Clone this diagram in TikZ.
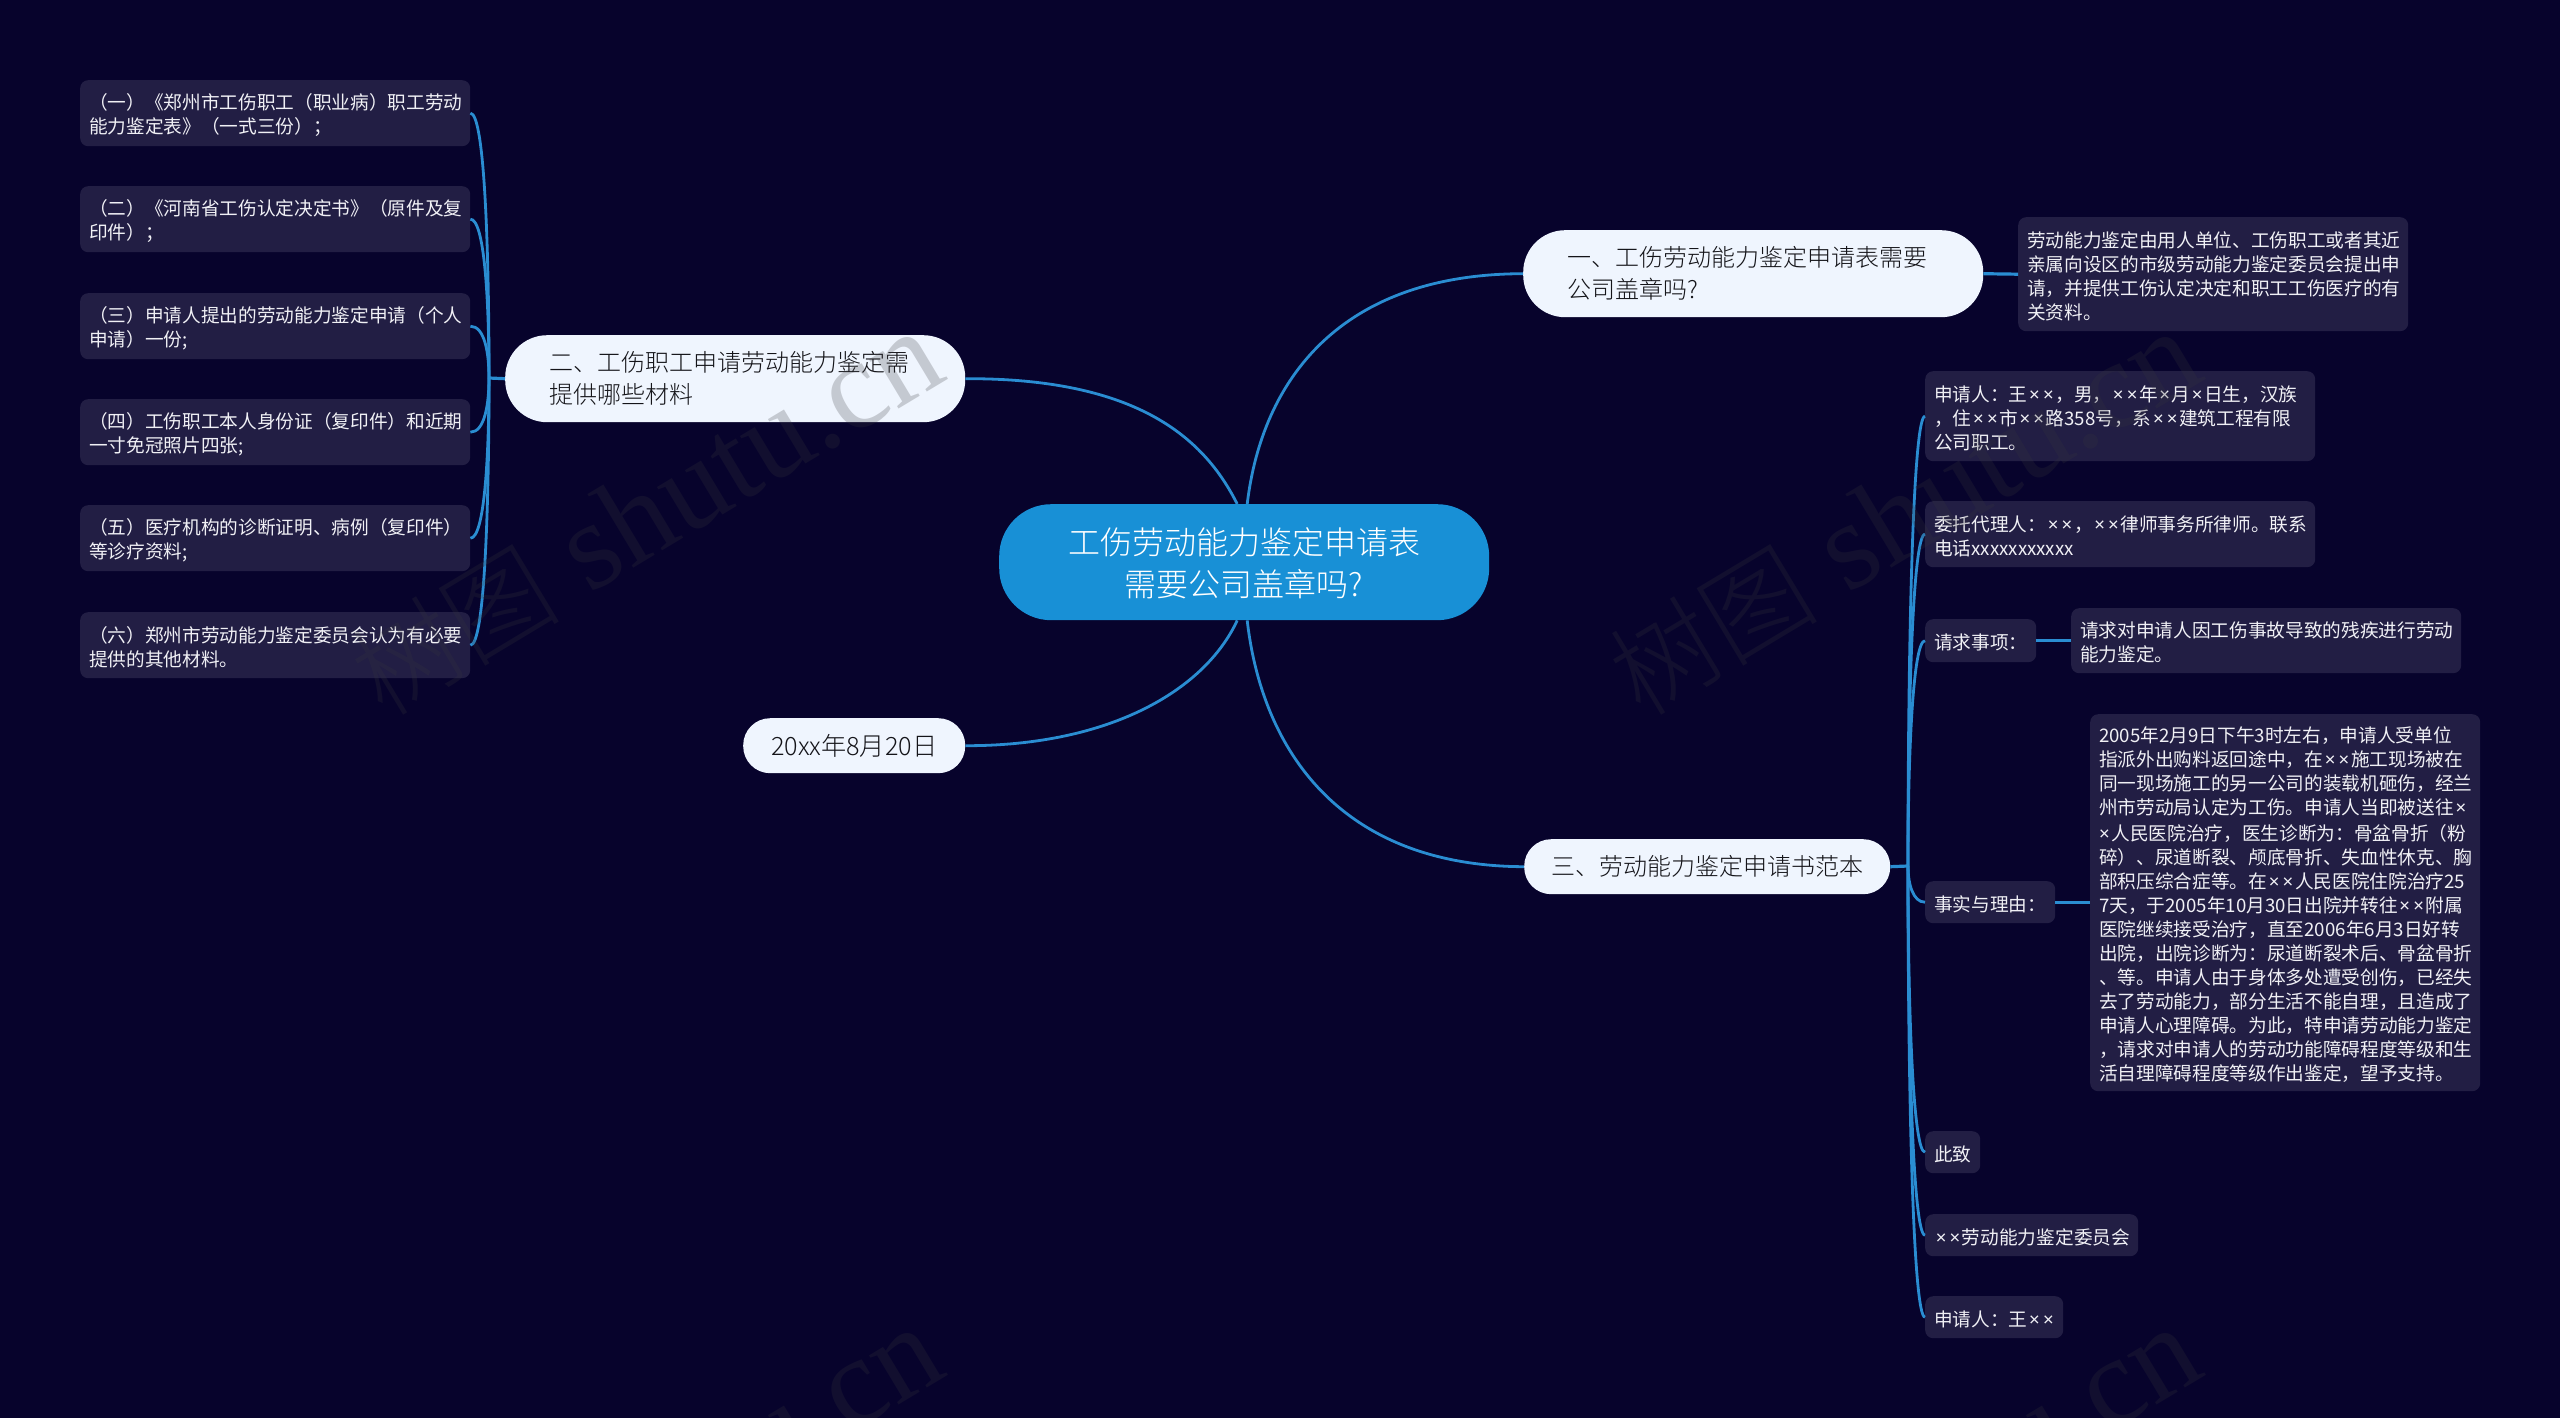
\documentclass[tikz,border=0pt]{standalone}
\usepackage{fontspec}
\setmainfont{Noto Sans CJK SC}
\newfontfamily\lightcjk{Noto Sans CJK SC}[UprightFont=* Light]
\newfontfamily\wmfont{Liberation Serif}
\newfontfamily\latfont{Noto Sans}
\newcommand{\X}{{\latfont\kern1.6pt ×\kern1.6pt}}
\newcommand{\leadD}{\rule{0pt}{19.6pt}}
\newcommand{\leadT}{\rule{0pt}{19pt}}
\newcommand{\leadR}{\rule{0pt}{30pt}}
\newcommand{\wmtext}{{\lightcjk\fontsize{105}{105}\selectfont 树图}{\wmfont\fontsize{125}{125}\selectfont{} shutu.cn}}
\usetikzlibrary{calc}
\definecolor{pagebg}{RGB}{7,3,44}
\definecolor{boxfill}{RGB}{34,30,68}
\definecolor{linecol}{RGB}{42,141,210}
\definecolor{rootfill}{RGB}{24,144,214}
\definecolor{topicfill}{RGB}{239,245,254}
\definecolor{topictext}{RGB}{20,20,25}
\definecolor{detailtext}{RGB}{240,240,245}
\definecolor{wmcol}{RGB}{55,55,60}
\tikzset{
  detail/.style 2 args={anchor=north west, fill=boxfill, text=detailtext, rounded corners=8pt,
    inner xsep=9pt, inner ysep=0pt, text width=#1pt, minimum height=#2pt, align=left,
    font=\fontsize{18.67}{24}\selectfont},
  topic/.style n args={3}{anchor=north west, fill=topicfill, text=topictext, rounded corners=#3pt,
    inner ysep=0pt, minimum height=#2pt, text width=#1pt,
    font=\lightcjk\fontsize{24}{32}\selectfont},
  rootnode/.style={anchor=north west, fill=rootfill, text=white, rounded corners=52pt,
    inner xsep=0pt, inner ysep=0pt, text width=490pt, minimum height=116pt, align=center,
    font=\lightcjk\fontsize{32}{42}\selectfont},
  mainlink/.style={draw=linecol, line width=2.8pt},
  branch/.style={draw=linecol, line width=2.8pt},
  stub/.style={draw=linecol, line width=3.2pt},
  watermark/.style={text=wmcol, text opacity=0.23, rotate=31},
}
\newcommand{\lbranch}[1]{\draw[branch] (tl) .. controls ($(tl)!0.5!(tl|-#1.east)$) and ($(#1.east)+(14,0)$) .. (#1.east);}
\newcommand{\rbranch}[1]{\draw[branch] (tr) .. controls ($(tr)!0.5!(tr|-#1.west)$) and ($(#1.west)+(-12,0)$) .. (#1.west);}
\begin{document}
\begin{tikzpicture}[x=1pt,y=-1pt]
\useasboundingbox (0,0) rectangle (2560,1418);
\fill[pagebg] (0,0) rectangle (2560,1418);

% detail nodes, left
\node[detail={372}{66}] (a1) at (80,80) {\leadD（一）《郑州市工伤职工（职业病）职工劳动\\能力鉴定表》（一式三份）；};
\node[detail={372}{66}] (a2) at (80,186) {\leadD（二）《河南省工伤认定决定书》（原件及复\\印件）；};
\node[detail={372}{66}] (a3) at (80,293) {\leadD（三）申请人提出的劳动能力鉴定申请（个人\\申请）一份;};
\node[detail={372}{66}] (a4) at (80,399) {\leadD（四）工伤职工本人身份证（复印件）和近期\\一寸免冠照片四张;};
\node[detail={372}{66}] (a5) at (80,505) {\leadD（五）医疗机构的诊断证明、病例（复印件）\\等诊疗资料;};
\node[detail={372}{66}] (a6) at (80,612) {\leadD（六）郑州市劳动能力鉴定委员会认为有必要\\提供的其他材料。};

% topics
\node[topic={372}{87}{42}, inner xsep=44pt] (t2) at (505,335) {\leadT 二、工伤职工申请劳动能力鉴定需\\提供哪些材料};
\node[topic={372}{87}{42}, inner xsep=44pt] (t1) at (1523,230) {\leadT 一、工伤劳动能力鉴定申请表需要\\公司盖章吗?};
\node[topic={312}{55}{27}, inner xsep=27pt] (t3) at (1524,839) {\leadT 三、劳动能力鉴定申请书范本};
\node[topic={168}{55}{27}, inner xsep=27pt, align=center, font=\lightcjk\fontsize{25.2}{32}\selectfont] (t4) at (743,718) {\leadT 20xx年8月20日};

% root
\node[rootnode] (root) at (999,504) {\leadR 工伤劳动能力鉴定申请表\\需要公司盖章吗?};

% detail nodes, right
\node[detail={372}{114}] (d1) at (2018,217) {\leadD 劳动能力鉴定由用人单位、工伤职工或者其近\\亲属向设区的市级劳动能力鉴定委员会提出申\\请，并提供工伤认定决定和职工工伤医疗的有\\关资料。};
\node[detail={372}{90}] (b1) at (1925,371) {\leadD 申请人：王\X\X，男，\X\X 年\X 月\X 日生，汉族\\，住\X\X 市\X\X 路358号，系\X\X 建筑工程有限\\公司职工。};
\node[detail={372}{66}] (b2) at (1925,501) {\leadD 委托代理人：\X\X，\X\X 律师事务所律师。联系\\电话xxxxxxxxxxx};
\node[detail={93}{43}] (b3) at (1925,619) {\leadD 请求事项：};
\node[detail={372}{65}] (c3) at (2071,608) {\leadD 请求对申请人因工伤事故导致的残疾进行劳动\\能力鉴定。};
\node[detail={112}{42}] (b4) at (1925,881) {\leadD 事实与理由：};
\node[detail={372}{377}] (c4) at (2090,714) {\leadD 2005年2月9日下午3时左右，申请人受单位\\指派外出购料返回途中，在\X\X 施工现场被在\\同一现场施工的另一公司的装载机砸伤，经兰\\州市劳动局认定为工伤。申请人当即被送往\X\\\X 人民医院治疗，医生诊断为：骨盆骨折（粉\\碎）、尿道断裂、颅底骨折、失血性休克、胸\\部积压综合症等。在\X\X 人民医院住院治疗25\\7天，于2005年10月30日出院并转往\X\X 附属\\医院继续接受治疗，直至2006年6月3日好转\\出院，出院诊断为：尿道断裂术后、骨盆骨折\\、等。申请人由于身体多处遭受创伤，已经失\\去了劳动能力，部分生活不能自理，且造成了\\申请人心理障碍。为此，特申请劳动能力鉴定\\，请求对申请人的劳动功能障碍程度等级和生\\活自理障碍程度等级作出鉴定，望予支持。};
\node[detail={37}{42}] (b5) at (1925,1131) {\leadD 此致};
\node[detail={195}{42}] (b6) at (1925,1214) {\leadD\X\X 劳动能力鉴定委员会};
\node[detail={120}{42}] (b7) at (1925,1296) {\leadD 申请人：王\X\X};

% junctions
\coordinate (tl) at (489,378);
\coordinate (tr) at (1908,866);

% main connectors
\draw[mainlink] (t2.east) .. controls (1140,378) and (1205,440) .. ($(root.north)+(-7,0)$);
\draw[mainlink] ($(root.north)+(3,0)$) .. controls (1262,380) and (1340,274) .. (t1.west);
\draw[mainlink] ($(root.south)+(3,0)$) .. controls (1262,750) and (1340,866) .. (t3.west);
\draw[mainlink] (t4.east) .. controls (1110,746) and (1205,690) .. ($(root.south)+(-7,0)$);

% stubs
\draw[stub] (t2.west) -- (tl);
\draw[stub] (t3.east) -- (tr);
\draw[stub] (t1.east) -- (d1.west);
\draw[stub] (b3.east) -- (c3.west);
\draw[stub] (b4.east) -- (c4.west |- b4.east);

% branches
\lbranch{a1}\lbranch{a2}\lbranch{a3}\lbranch{a4}\lbranch{a5}\lbranch{a6}
\rbranch{b1}\rbranch{b2}\rbranch{b3}\rbranch{b4}\rbranch{b5}\rbranch{b6}\rbranch{b7}

% watermarks
\begin{scope}
\clip (0,0) rectangle (2560,1418);
\node[watermark] (w1) at (646,514) {\wmtext};
\node[watermark] (w2) at (1904,514) {\wmtext};
\node[watermark] (w3) at (646,1510) {\wmtext};
\node[watermark] (w4) at (1904,1510) {\wmtext};
\end{scope}
\end{tikzpicture}
\end{document}
